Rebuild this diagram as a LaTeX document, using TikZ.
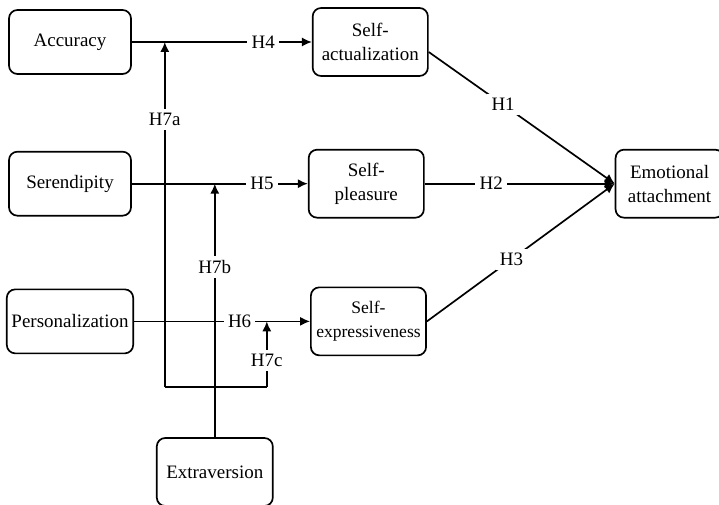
\documentclass[tikz,border=0pt]{standalone}
\usepackage{fontspec}
\setmainfont{Liberation Serif}
\usetikzlibrary{positioning,arrows.meta,calc}

\begin{document}
\begin{tikzpicture}[
    >={Latex[length=2.5mm,width=2.3mm]},
    font=\fontsize{13.5}{17}\selectfont,
    every path/.style={line width=1.2pt},
    box/.style={
        draw,
        rounded corners=6pt,
        minimum width=3.05cm,
        minimum height=1.6cm,
        line width=1.2pt,
        align=center
    },
    selfbox/.style={box, minimum width=2.88cm, minimum height=1.7cm},
    lbl/.style={fill=white, inner sep=3pt}
]
\useasboundingbox (0,0) rectangle (17.975,-12.625);

% antecedents
\node[box] (acc) at (1.75,-1.05) {Accuracy};
\node[box, below=1.9cm of acc] (ser) {Serendipity};
\node[box, below=1.8cm of ser] (per) {Personalization};
\node[box, minimum width=2.9cm, minimum height=1.7cm] (ext) at (5.37,-11.8) {Extraversion};

% mediators and outcome
\node[selfbox, right=4.5cm of acc] (sa) {Self-\\actualization};
\node[selfbox, right=4.4cm of ser] (sp) {Self-\\pleasure};
\node[selfbox, right=4.4cm of per,
      font=\fontsize{12.5}{17}\selectfont] (se) {Self-\\expressiveness};
\node[box, right=4.75cm of sp, minimum width=2.7cm, minimum height=1.7cm]
    (ea) {Emotional\\attachment};

% moderator bar
\coordinate (bar) at ($(ext.north)+(0,1.25)$);
\coordinate (barL) at ([xshift=-1.25cm]bar);
\coordinate (barR) at ([xshift=1.3cm]bar);

\draw[->] (acc) -- node[lbl, pos=.73]{H4} (sa);
\draw[->] (ser) -- node[lbl, pos=.74]{H5} (sp);
\draw[->] (per) -- node[lbl, pos=.6]{H6} (se);

\draw[->] ([yshift=-0.25cm]sa.east) -- node[lbl, pos=.4]{H1} (ea.west);
\draw[->] (sp) -- node[lbl, pos=.35]{H2} (ea.west);
\draw[->] (se.east) -- node[lbl, pos=.45]{H3} (ea.west);

\draw (barL) -- (barR);
\draw[->] (barL) -- node[lbl, pos=.775]{H7a} (barL |- acc.east);
\draw[->] (ext.north) -- node[lbl, pos=.67]{H7b} (bar |- ser.east);
\draw[->] (barR) -- node[lbl, pos=.41]{H7c} (barR |- per.east);

\end{tikzpicture}
\end{document}
